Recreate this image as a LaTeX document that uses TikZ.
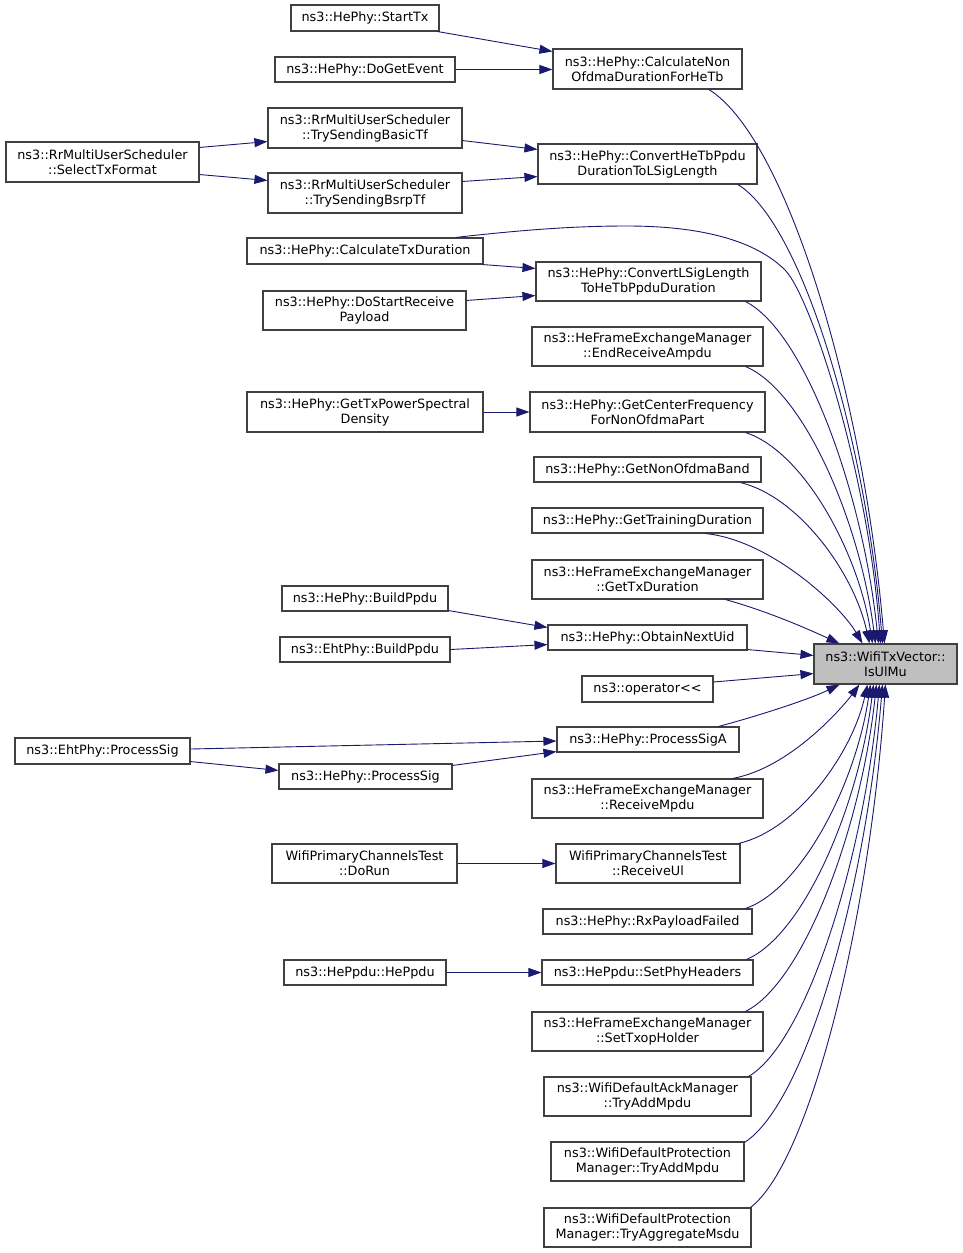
\documentclass[tikz,border=0pt]{standalone}
\usepackage{fontspec}
\setmainfont{DejaVu Sans}
\usetikzlibrary{arrows.meta,calc}
\definecolor{edgecol}{HTML}{191970}
\definecolor{nodeborder}{HTML}{404040}
\definecolor{hlfill}{HTML}{BFBFBF}
\tikzset{
  fn/.style={draw=nodeborder, line width=1.1pt, fill=white, inner sep=0pt, align=center,
    font=\fontsize{12.8}{15}\selectfont},
  hl/.style={fn, fill=hlfill},
  call/.style={draw=edgecol, line width=0.9pt, -{Triangle[length=13pt,width=9pt]}},
}
\begin{document}
\begin{tikzpicture}[x=1pt,y=-1pt]
\fill[white] (0,0) rectangle (963,1253);
\useasboundingbox (0,0) rectangle (963,1253);

% ---------- nodes ----------
\node[fn, minimum width=148pt, minimum height=26pt] (starttx) at (365,18) {ns3::HePhy::StartTx};
\node[fn, minimum width=180pt, minimum height=25pt] (dogetevent) at (365,69.5) {ns3::HePhy::DoGetEvent};
\node[fn, minimum width=189pt, minimum height=40pt] (calcnon) at (647.5,69) {ns3::HePhy::CalculateNon\\OfdmaDurationForHeTb};
\node[fn, minimum width=193pt, minimum height=40pt] (selecttx) at (102.5,162) {ns3::RrMultiUserScheduler\\::SelectTxFormat};
\node[fn, minimum width=194pt, minimum height=40pt] (basictf) at (365,128) {ns3::RrMultiUserScheduler\\::TrySendingBasicTf};
\node[fn, minimum width=194pt, minimum height=40pt] (bsrptf) at (365,193) {ns3::RrMultiUserScheduler\\::TrySendingBsrpTf};
\node[fn, minimum width=219pt, minimum height=40pt] (convhetb) at (647.5,164) {ns3::HePhy::ConvertHeTbPpdu\\DurationToLSigLength};
\node[fn, minimum width=236pt, minimum height=26pt] (calctx) at (365,251) {ns3::HePhy::CalculateTxDuration};
\node[fn, minimum width=225pt, minimum height=39pt] (convlsig) at (648.5,281.5) {ns3::HePhy::ConvertLSigLength\\ToHeTbPpduDuration};
\node[fn, minimum width=203pt, minimum height=39pt] (dostartrx) at (364.5,310.5) {ns3::HePhy::DoStartReceive\\Payload};
\node[fn, minimum width=231pt, minimum height=39pt] (endrxampdu) at (647.5,346.5) {ns3::HeFrameExchangeManager\\::EndReceiveAmpdu};
\node[fn, minimum width=236pt, minimum height=40pt] (gettxpsd) at (365,412) {ns3::HePhy::GetTxPowerSpectral\\Density};
\node[fn, minimum width=235pt, minimum height=40pt] (getcenter) at (647.5,412) {ns3::HePhy::GetCenterFrequency\\ForNonOfdmaPart};
\node[fn, minimum width=227pt, minimum height=25pt] (getnonofdma) at (647.5,469.5) {ns3::HePhy::GetNonOfdmaBand};
\node[fn, minimum width=231pt, minimum height=25pt] (gettraining) at (647.5,520.5) {ns3::HePhy::GetTrainingDuration};
\node[fn, minimum width=231pt, minimum height=39pt] (gettxdur) at (647.5,579.5) {ns3::HeFrameExchangeManager\\::GetTxDuration};
\node[fn, minimum width=166pt, minimum height=25pt] (hebuild) at (365,598.5) {ns3::HePhy::BuildPpdu};
\node[fn, minimum width=170pt, minimum height=25pt] (ehtbuild) at (365,649.5) {ns3::EhtPhy::BuildPpdu};
\node[fn, minimum width=199pt, minimum height=25pt] (nextuid) at (647.5,637.5) {ns3::HePhy::ObtainNextUid};
\node[hl, minimum width=143pt, minimum height=40pt] (ulmu) at (885.5,664) {ns3::WifiTxVector::\\IsUlMu};
\node[fn, minimum width=131pt, minimum height=26pt] (oper) at (647.5,689) {ns3::operator<\kern0pt<};
\node[fn, minimum width=175pt, minimum height=26pt] (ehtsig) at (102.5,751) {ns3::EhtPhy::ProcessSig};
\node[fn, minimum width=182pt, minimum height=25pt] (sigA) at (648,739.5) {ns3::HePhy::ProcessSigA};
\node[fn, minimum width=173pt, minimum height=25pt] (hesig) at (365.5,776.5) {ns3::HePhy::ProcessSig};
\node[fn, minimum width=231pt, minimum height=39pt] (rxmpdu) at (647.5,798.5) {ns3::HeFrameExchangeManager\\::ReceiveMpdu};
\node[fn, minimum width=185pt, minimum height=39pt] (dorun) at (364.5,863.5) {WifiPrimaryChannelsTest\\::DoRun};
\node[fn, minimum width=184pt, minimum height=39pt] (rxul) at (648,863.5) {WifiPrimaryChannelsTest\\::ReceiveUl};
\node[fn, minimum width=209pt, minimum height=25pt] (rxfail) at (647.5,921.5) {ns3::HePhy::RxPayloadFailed};
\node[fn, minimum width=162pt, minimum height=25pt] (heppdu) at (365,972.5) {ns3::HePpdu::HePpdu};
\node[fn, minimum width=211pt, minimum height=25pt] (setphy) at (647.5,972.5) {ns3::HePpdu::SetPhyHeaders};
\node[fn, minimum width=231pt, minimum height=39pt] (txop) at (647.5,1031.5) {ns3::HeFrameExchangeManager\\::SetTxopHolder};
\node[fn, minimum width=207pt, minimum height=39pt] (ackmgr) at (647.5,1096.5) {ns3::WifiDefaultAckManager\\::TryAddMpdu};
\node[fn, minimum width=193pt, minimum height=39pt] (protmpdu) at (647.5,1161.5) {ns3::WifiDefaultProtection\\Manager::TryAddMpdu};
\node[fn, minimum width=207pt, minimum height=39pt] (protmsdu) at (647.5,1227.5) {ns3::WifiDefaultProtection\\Manager::TryAggregateMsdu};

% ---------- straight calls ----------
\draw[call] ($(starttx.south east)+(-2,0)$) -- ($(calcnon.north west)+(0,3)$);
\draw[call] (dogetevent.east) -- (dogetevent.east -| calcnon.west);
\draw[call] ($(selecttx.north east)+(0,6)$) -- ($(basictf.south west)+(0,-7)$);
\draw[call] ($(selecttx.south east)+(0,-8)$) -- ($(bsrptf.north west)+(0,8)$);
\draw[call] ($(basictf.south east)+(0,-8)$) -- ($(convhetb.north west)+(0,6)$);
\draw[call] ($(bsrptf.north east)+(0,9)$) -- ($(convhetb.south west)+(0,-8)$);
\draw[call] ($(calctx.south east)+(-1,0)$) -- ($(convlsig.north west)+(0,7)$);
\draw[call] ($(dostartrx.north east)+(0,10)$) -- ($(convlsig.south west)+(0,-6)$);
\draw[call] (gettxpsd.east) -- (getcenter.west);
\draw[call] ($(hebuild.south east)+(0,-1)$) -- ($(nextuid.north west)+(0,3)$);
\draw[call] (ehtbuild.east) -- ($(nextuid.south west)+(0,-6)$);
\draw[call] ($(nextuid.south east)+(0,-1)$) -- ($(ulmu.north west)+(0,12)$);
\draw[call] ($(oper.east)+(0,-7)$) -- ($(ulmu.south west)+(0,-11)$);
\draw[call] ($(ehtsig.east)+(0,-2)$) -- ($(sigA.west)+(0,1.5)$);
\draw[call] ($(ehtsig.south east)+(0,-3)$) -- ($(hesig.north west)+(0,7)$);
\draw[call] ($(hesig.north east)+(0,2)$) -- ($(sigA.south west)+(0,-1)$);
\draw[call] (dorun.east) -- (rxul.west);
\draw[call] (heppdu.east) -- (setphy.west);

% ---------- curved calls into IsUlMu (from above) ----------
\draw[call] ($(calcnon.south)+(61.5,0)$) .. controls (788,139) and (864,400) .. ($(ulmu.north west)+(71,0)$);
\draw[call] ($(convhetb.south)+(90.5,0)$) .. controls (803,225) and (866,442) .. ($(ulmu.north west)+(69,0)$);
\draw[call] ($(calctx.north east)+(-28,0)$) .. controls (530,229) and (580,226) .. (627,226)
   .. controls (700,226) and (755,240) .. (785,270)
   .. controls (810,295) and (868,470) .. ($(ulmu.north west)+(67,0)$);
\draw[call] ($(convlsig.south east)+(-16,0)$) .. controls (805,332) and (863,493) .. ($(ulmu.north west)+(65,0)$);
\draw[call] ($(endrxampdu.south east)+(-18,0)$) .. controls (804,391) and (860,522) .. ($(ulmu.north west)+(62,0)$);
\draw[call] ($(getcenter.south east)+(-20,0)$) .. controls (803,451) and (858,551) .. ($(ulmu.north west)+(59,0)$);
\draw[call] ($(getnonofdma.south east)+(-21,0)$) .. controls (799,497) and (854,573) .. ($(ulmu.north west)+(56,0)$);
\draw[call] ($(gettraining.south east)+(-58,0)$) .. controls (770,540) and (840,605) .. ($(ulmu.north west)+(49,0)$);
\draw[call] ($(gettxdur.south east)+(-38,0)$) .. controls (770,612) and (810,630) .. ($(ulmu.north west)+(26,0)$);

% ---------- curved calls into IsUlMu (from below) ----------
\draw[call] ($(sigA.north east)+(-21,0)$) .. controls (765,714) and (812,698) .. ($(ulmu.south west)+(26,0)$);
\draw[call] ($(rxmpdu.north east)+(-31,0)$) .. controls (790,768) and (842,708) .. ($(ulmu.south west)+(46,0)$);
\draw[call] ($(rxul.north east)+(-2,0)$) .. controls (797,830) and (852,754) .. ($(ulmu.south west)+(54,0)$);
\draw[call] ($(rxfail.north east)+(-7,0)$) .. controls (802,889) and (856,783) .. ($(ulmu.south west)+(57,0)$);
\draw[call] ($(setphy.north east)+(-7,0)$) .. controls (804,935) and (859,805) .. ($(ulmu.south west)+(60,0)$);
\draw[call] ($(txop.north east)+(-18,0)$) .. controls (804,982) and (861,828) .. ($(ulmu.south west)+(63,0)$);
\draw[call] ($(ackmgr.north east)+(-3,0)$) .. controls (807,1042) and (864,857) .. ($(ulmu.south west)+(66,0)$);
\draw[call] ($(protmpdu.north east)+(0,1)$) .. controls (807,1102) and (866,886) .. ($(ulmu.south west)+(69,0)$);
\draw[call] ($(protmsdu.north east)+(-1,0)$) .. controls (811,1161) and (870,915) .. ($(ulmu.south west)+(72,0)$);
\end{tikzpicture}
\end{document}
